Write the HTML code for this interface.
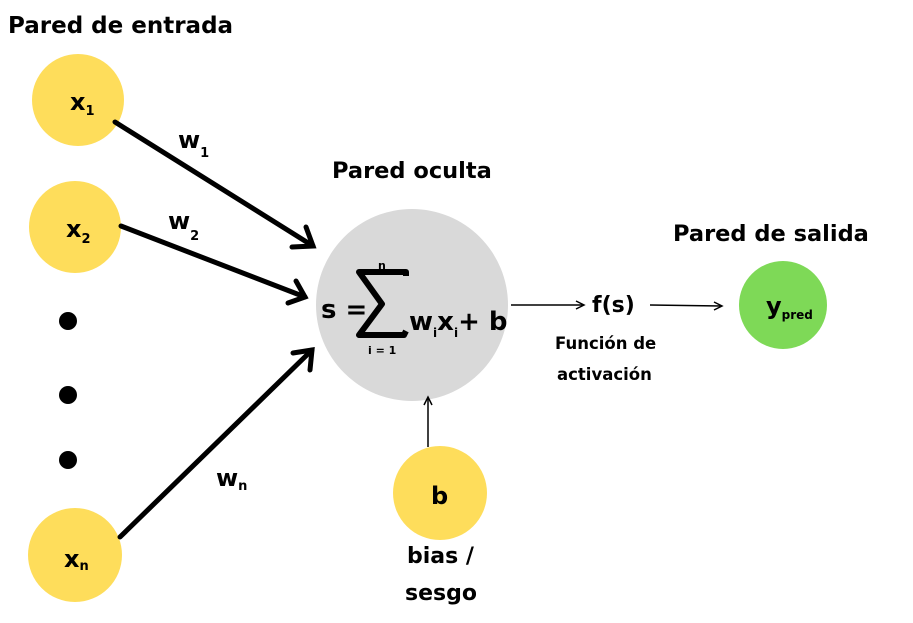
<!DOCTYPE html>
<html><head><style>
body{margin:0;background:#fff;}
svg text{font-family:"DejaVu Sans","Liberation Sans",sans-serif;font-weight:bold;fill:#000;}
</style></head><body>
<svg width="913" height="618" xmlns="http://www.w3.org/2000/svg">
<rect width="913" height="618" fill="#fff"/>
<text x="8" y="33" font-size="23">Pared de entrada</text>
<text x="332" y="178" font-size="22.5">Pared oculta</text>
<text x="673" y="241" font-size="22.5">Pared de salida</text>
<circle cx="78" cy="100" r="46" fill="#fedd5b"/>
<circle cx="75" cy="227" r="46" fill="#fedd5b"/>
<circle cx="75" cy="555" r="47" fill="#fedd5b"/>
<circle cx="412" cy="305" r="96" fill="#d9d9d9"/>
<circle cx="440" cy="493" r="47" fill="#fedd5b"/>
<circle cx="783" cy="305" r="44" fill="#7ed957"/>
<circle cx="68" cy="321" r="9" fill="#000"/>
<circle cx="68" cy="395" r="9" fill="#000"/>
<circle cx="68" cy="460" r="9" fill="#000"/>
<g stroke="#000" stroke-width="5" fill="none" stroke-linecap="round">
<line x1="115" y1="122" x2="313" y2="246"/>
<polyline points="292,247 313,246 306,227"/>
<line x1="121" y1="226" x2="305" y2="297"/>
<polyline points="288,303 305,297 296,281"/>
<line x1="120" y1="537" x2="312" y2="350"/>
<polyline points="293,353 312,350 310,370"/>
</g>
<g stroke="#000" stroke-width="1.5" fill="none">
<line x1="428" y1="447" x2="428" y2="398"/>
<polyline points="424,405 428,397 432,405"/>
<line x1="511" y1="305" x2="583" y2="305"/>
<polyline points="576,301 584,305 576,309"/>
<line x1="650" y1="305" x2="721" y2="306"/>
<polyline points="714,302 722,306 714,310"/>
</g>
<text x="70" y="110" font-size="24">x<tspan font-size="13" dy="5">1</tspan></text>
<text x="66" y="237" font-size="24">x<tspan font-size="13" dy="6">2</tspan></text>
<text x="64" y="567" font-size="24">x<tspan font-size="13" dy="3">n</tspan></text>
<text x="178" y="148" font-size="24">w<tspan font-size="13" dy="9">1</tspan></text>
<text x="168" y="229" font-size="24">w<tspan font-size="13" dy="11">2</tspan></text>
<text x="216" y="486" font-size="24">w<tspan font-size="13" dy="4">n</tspan></text>
<text x="321" y="318" font-size="26">s =</text>
<path d="M406,276 L406,272 L359,272 L382,304 L359,335 L404,335 L406,331" stroke="#000" stroke-width="6" fill="none" stroke-linejoin="round"/>
<text x="378" y="269" font-size="11">n</text>
<text x="368" y="354" font-size="11">i = 1</text>
<text x="409" y="330" font-size="26">w<tspan font-size="12" dy="7">i</tspan><tspan dy="-7">x</tspan><tspan font-size="12" dy="7">i</tspan><tspan dy="-7">+ b</tspan></text>
<text x="592" y="312" font-size="22">f(s)</text>
<text x="555" y="349" font-size="16.5">Función de</text>
<text x="557" y="380" font-size="16.5">activación</text>
<text x="431" y="504" font-size="24">b</text>
<text x="407" y="563" font-size="22">bias /</text>
<text x="405" y="600" font-size="22">sesgo</text>
<text x="766" y="314" font-size="24">y<tspan font-size="12" dy="5">pred</tspan></text>
</svg>
</body></html>
